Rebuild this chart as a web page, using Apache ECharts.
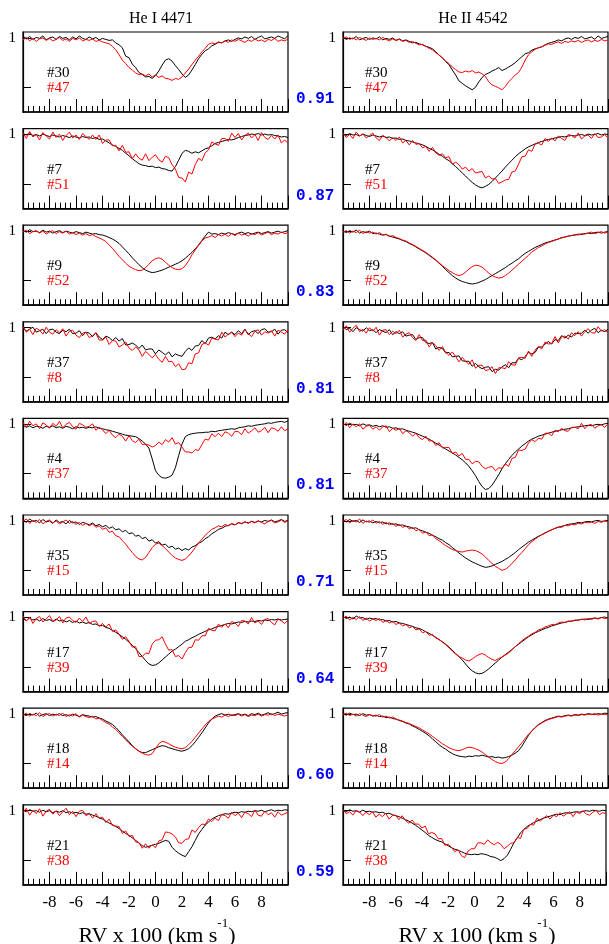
<!DOCTYPE html>
<html><head><meta charset="utf-8">
<script src="https://cdn.jsdelivr.net/npm/echarts@6/dist/echarts.min.js"></script>
<style>html,body{margin:0;padding:0;background:#fff}#c{width:609px;height:944px}</style>
</head><body><div id="c"></div>
<script>
// Radial velocity sampling grid (units of 100 km/s)
const RV = Array.from({length: 81}, (_, i) => -10 + i * 0.25);

const xTicks = [-8, -6, -4, -2, 0, 2, 4, 6, 8];
const phases = ['0.91', '0.87', '0.83', '0.81', '0.81', '0.71', '0.64', '0.60', '0.59'];
const blackIds = ['#30', '#7', '#9', '#37', '#4', '#35', '#17', '#18', '#21'];
const redIds = ['#47', '#51', '#52', '#8', '#37', '#15', '#39', '#14', '#38'];
const lineTitles = ['He I 4471', 'He II 4542'];

// ---- He I 4471 profiles ----
const heI_r1_black = [1.004,0.998,1.003,0.997,1.001,0.999,1.004,0.996,1.000,1.002,0.997,1.003,0.999,1.001,0.996,1.002,0.998,1.004,0.999,0.997,1.002,0.998,1.001,0.996,0.999,0.997,0.995,0.996,0.990,0.986,0.980,0.963,0.960,0.947,0.940,0.930,0.926,0.921,0.922,0.918,0.924,0.933,0.945,0.955,0.958,0.953,0.944,0.936,0.927,0.920,0.925,0.935,0.946,0.958,0.967,0.974,0.978,0.984,0.987,0.991,0.990,0.994,0.996,0.993,0.997,1.000,0.998,1.002,0.999,1.003,0.997,1.001,1.004,0.998,1.000,1.002,0.999,1.004,1.001,0.998,1.005];
const heI_r1_red = [0.996,1.001,0.994,0.999,0.993,0.998,1.000,0.995,0.999,0.994,0.997,1.001,0.995,0.998,0.993,0.999,0.996,1.000,0.994,0.997,0.995,0.998,0.993,0.995,0.992,0.990,0.988,0.983,0.976,0.966,0.955,0.948,0.940,0.935,0.929,0.926,0.927,0.923,0.927,0.921,0.925,0.920,0.923,0.918,0.917,0.914,0.918,0.916,0.921,0.929,0.937,0.946,0.955,0.963,0.972,0.979,0.987,0.990,0.988,0.992,0.990,0.994,0.991,0.996,0.993,0.997,0.994,0.991,0.996,0.993,0.998,0.994,0.996,0.992,0.997,0.995,0.999,0.993,0.996,0.994,0.998];
const heI_r2_black = [1.002,0.999,1.003,0.998,1.000,0.997,1.001,0.998,0.996,0.999,0.997,0.995,0.998,0.996,0.994,0.997,0.995,0.993,0.996,0.994,0.995,0.992,0.994,0.990,0.991,0.987,0.983,0.979,0.976,0.972,0.968,0.962,0.957,0.951,0.946,0.941,0.938,0.937,0.935,0.936,0.933,0.934,0.931,0.930,0.927,0.926,0.935,0.948,0.962,0.968,0.966,0.962,0.965,0.963,0.967,0.971,0.973,0.977,0.982,0.984,0.986,0.988,0.990,0.989,0.991,0.994,0.996,0.998,0.999,1.001,1.000,1.002,0.999,1.001,0.999,1.000,0.998,0.997,0.995,0.996,0.994];
const heI_r2_red = [1.003,0.992,1.006,0.995,1.000,0.989,1.004,0.997,0.991,1.005,0.994,1.001,0.988,0.998,1.005,0.993,0.999,0.990,1.002,0.996,0.990,0.999,0.990,0.999,0.982,0.989,0.989,0.977,0.978,0.967,0.978,0.964,0.965,0.951,0.961,0.952,0.948,0.961,0.947,0.954,0.959,0.949,0.944,0.956,0.953,0.939,0.930,0.913,0.912,0.904,0.924,0.920,0.939,0.952,0.947,0.963,0.969,0.985,0.981,0.978,0.992,0.992,0.986,1.003,0.994,1.002,0.989,0.998,1.003,0.993,1.000,0.988,1.004,0.994,0.990,0.998,0.991,0.999,0.983,0.989,0.982];
const heI_r3_black = [1.001,0.998,1.003,0.999,1.000,0.997,1.002,0.998,1.000,0.996,0.999,1.001,0.997,1.000,0.998,0.996,0.999,0.997,0.995,0.998,0.996,0.994,0.995,0.993,0.992,0.990,0.987,0.984,0.980,0.975,0.968,0.961,0.954,0.946,0.939,0.932,0.926,0.921,0.918,0.916,0.917,0.919,0.921,0.924,0.927,0.930,0.933,0.936,0.940,0.945,0.951,0.957,0.964,0.972,0.981,0.990,0.998,0.994,0.995,0.993,0.996,0.994,0.997,0.995,0.993,0.996,0.998,0.995,0.997,0.994,0.996,0.998,0.995,0.997,0.999,0.996,0.998,1.000,0.997,0.999,1.001];
const heI_r3_red = [0.998,1.002,0.995,0.999,1.001,0.996,1.000,0.994,0.998,1.001,0.995,0.999,0.996,1.000,0.994,0.997,0.993,0.996,0.992,0.995,0.991,0.993,0.989,0.986,0.983,0.979,0.972,0.965,0.957,0.949,0.942,0.935,0.929,0.925,0.922,0.920,0.921,0.926,0.933,0.940,0.944,0.946,0.943,0.937,0.931,0.926,0.923,0.922,0.924,0.930,0.940,0.952,0.962,0.971,0.980,0.986,0.988,0.991,0.987,0.993,0.990,0.994,0.989,0.995,0.991,0.996,0.992,0.994,0.990,0.995,0.993,0.997,0.992,0.995,0.998,0.993,0.996,0.994,0.998,0.995,0.997];
const heI_r4_black = [1.001,0.993,0.997,1.001,0.991,0.994,0.997,0.988,0.996,0.997,0.991,0.988,0.995,0.992,0.997,0.988,0.989,0.994,0.984,0.991,0.989,0.982,0.990,0.981,0.976,0.983,0.980,0.974,0.980,0.973,0.978,0.965,0.966,0.969,0.965,0.958,0.965,0.955,0.957,0.957,0.947,0.955,0.950,0.945,0.951,0.941,0.947,0.944,0.942,0.952,0.959,0.954,0.963,0.964,0.974,0.968,0.979,0.981,0.977,0.984,0.979,0.991,0.986,0.991,0.986,0.994,0.988,0.997,0.986,0.992,0.994,0.988,0.996,0.998,0.991,0.992,0.997,0.987,0.995,0.996,0.990];
const heI_r4_red = [1.002,0.991,0.997,0.986,0.999,0.995,0.987,1.001,0.991,0.987,0.996,0.990,0.998,0.983,0.993,0.995,0.985,0.980,0.989,0.991,0.980,0.984,0.989,0.975,0.975,0.981,0.966,0.974,0.973,0.961,0.965,0.971,0.959,0.954,0.961,0.955,0.942,0.952,0.946,0.939,0.946,0.936,0.930,0.942,0.931,0.932,0.921,0.927,0.915,0.916,0.929,0.927,0.947,0.949,0.966,0.969,0.965,0.979,0.977,0.975,0.991,0.981,0.987,0.991,0.982,0.989,0.985,0.996,0.988,0.982,0.993,0.996,0.985,0.992,0.989,0.994,0.983,0.995,0.991,0.987,0.996];
const heI_r5_black = [0.998,0.994,0.997,0.993,0.996,0.995,0.992,0.996,0.994,0.997,0.993,0.995,0.992,0.996,0.994,0.991,0.995,0.993,0.994,0.992,0.994,0.993,0.995,0.992,0.991,0.989,0.988,0.986,0.984,0.982,0.980,0.978,0.977,0.976,0.975,0.971,0.966,0.960,0.952,0.930,0.906,0.897,0.892,0.891,0.893,0.897,0.912,0.937,0.960,0.975,0.979,0.981,0.982,0.983,0.983,0.984,0.984,0.986,0.985,0.987,0.988,0.989,0.990,0.991,0.990,0.993,0.994,0.995,0.997,0.996,0.998,0.999,1.000,1.001,1.003,1.002,1.004,1.005,1.006,1.004,1.007];
const heI_r5_red = [1.004,0.994,1.006,0.997,1.001,0.991,1.003,0.999,0.992,1.002,0.996,1.006,0.993,1.000,1.004,0.995,0.990,1.002,0.999,0.994,0.996,1.001,0.988,0.994,0.989,0.981,0.988,0.978,0.973,0.980,0.976,0.966,0.977,0.967,0.963,0.970,0.959,0.960,0.958,0.954,0.957,0.964,0.959,0.969,0.964,0.973,0.960,0.963,0.954,0.944,0.944,0.942,0.949,0.947,0.959,0.970,0.968,0.981,0.975,0.982,0.975,0.985,0.982,0.976,0.986,0.985,0.979,0.991,0.982,0.987,0.993,0.984,0.987,0.994,0.983,0.993,0.991,0.986,0.995,0.987,0.991];
const heI_r6_black = [1.002,0.997,1.004,0.999,1.001,0.996,1.003,0.998,1.000,0.995,1.002,0.997,0.999,0.994,1.001,0.996,0.998,0.993,0.997,0.995,0.992,0.996,0.990,0.993,0.988,0.991,0.985,0.988,0.982,0.984,0.978,0.981,0.974,0.976,0.969,0.971,0.964,0.967,0.959,0.962,0.955,0.958,0.951,0.953,0.946,0.949,0.943,0.945,0.940,0.944,0.941,0.947,0.950,0.955,0.958,0.964,0.968,0.974,0.978,0.983,0.985,0.989,0.991,0.994,0.992,0.996,0.995,0.998,0.996,0.999,0.997,1.000,0.998,1.001,0.999,1.002,0.998,1.000,1.003,0.999,1.001];
const heI_r6_red = [0.999,1.004,0.995,1.001,0.997,1.003,0.994,0.999,1.002,0.996,1.000,0.994,0.998,1.002,0.995,0.999,0.993,0.997,0.991,0.995,0.990,0.994,0.987,0.990,0.983,0.986,0.977,0.979,0.970,0.968,0.960,0.953,0.944,0.936,0.928,0.923,0.921,0.926,0.936,0.946,0.953,0.955,0.950,0.944,0.937,0.930,0.925,0.922,0.920,0.923,0.929,0.937,0.946,0.955,0.963,0.971,0.977,0.983,0.986,0.990,0.988,0.993,0.990,0.995,0.992,0.997,0.994,0.998,0.995,0.999,0.996,1.000,0.997,0.994,0.999,1.001,0.996,0.998,1.002,0.997,1.000];
const heI_r7_black = [0.998,0.994,0.999,0.995,0.997,0.993,0.998,0.994,0.996,0.992,0.997,0.993,0.995,0.991,0.994,0.990,0.993,0.989,0.991,0.988,0.990,0.986,0.987,0.983,0.984,0.980,0.978,0.974,0.970,0.966,0.961,0.956,0.950,0.944,0.937,0.929,0.921,0.913,0.906,0.903,0.904,0.908,0.914,0.920,0.926,0.932,0.936,0.941,0.946,0.952,0.955,0.959,0.962,0.966,0.969,0.972,0.975,0.977,0.980,0.982,0.984,0.986,0.988,0.987,0.989,0.991,0.990,0.992,0.991,0.993,0.992,0.994,0.993,0.995,0.994,0.996,0.995,0.997,0.995,0.996,0.997];
const heI_r7_red = [1.003,0.993,1.001,0.988,0.998,1.002,0.991,0.997,1.004,0.992,0.995,1.002,0.989,0.999,1.001,0.994,0.990,0.999,0.992,1.001,0.988,0.992,0.993,0.982,0.988,0.981,0.987,0.972,0.975,0.966,0.956,0.961,0.952,0.940,0.941,0.921,0.921,0.928,0.927,0.946,0.954,0.955,0.961,0.946,0.934,0.935,0.921,0.923,0.916,0.929,0.939,0.940,0.955,0.954,0.963,0.963,0.978,0.974,0.973,0.987,0.980,0.987,0.979,0.992,0.989,0.982,0.994,0.993,0.987,1.000,0.989,0.993,0.986,0.996,0.998,0.990,0.985,0.997,0.993,0.988,0.995];
const heI_r8_black = [1.000,0.997,1.001,0.998,1.002,0.996,0.999,1.001,0.997,1.000,0.998,1.001,0.997,0.999,0.996,1.000,0.998,0.995,0.999,0.997,0.996,0.994,0.995,0.992,0.990,0.986,0.983,0.979,0.973,0.966,0.958,0.951,0.944,0.936,0.930,0.925,0.922,0.922,0.925,0.928,0.931,0.934,0.936,0.935,0.932,0.930,0.928,0.926,0.925,0.927,0.930,0.936,0.944,0.953,0.962,0.972,0.982,0.990,0.996,0.999,1.001,0.998,1.000,0.997,0.999,1.001,0.998,1.000,0.997,1.001,0.999,1.002,0.998,1.000,1.003,0.999,1.001,1.004,1.000,1.002,1.003];
const heI_r8_red = [0.998,1.002,0.996,1.000,0.997,1.003,0.995,0.999,1.001,0.996,1.000,0.997,1.002,0.995,0.999,0.996,1.001,0.994,0.998,0.995,0.993,0.996,0.990,0.992,0.987,0.983,0.980,0.974,0.969,0.962,0.955,0.948,0.941,0.935,0.930,0.925,0.921,0.918,0.917,0.920,0.930,0.940,0.945,0.943,0.940,0.936,0.933,0.931,0.930,0.932,0.938,0.945,0.953,0.962,0.970,0.978,0.985,0.990,0.993,0.996,0.994,0.998,0.995,0.999,0.997,1.000,0.996,0.999,0.995,0.998,0.997,1.000,0.996,0.999,0.998,1.001,0.997,1.000,0.998,0.996,0.999];
const heI_r9_black = [1.001,0.998,1.002,0.999,1.000,0.997,1.001,0.998,1.000,0.996,0.999,0.997,1.000,0.996,0.998,0.995,0.997,0.994,0.996,0.993,0.994,0.991,0.989,0.986,0.983,0.979,0.975,0.972,0.968,0.964,0.959,0.954,0.950,0.945,0.940,0.935,0.929,0.926,0.928,0.930,0.932,0.934,0.937,0.940,0.938,0.926,0.919,0.914,0.910,0.907,0.917,0.927,0.940,0.953,0.962,0.971,0.977,0.983,0.987,0.990,0.992,0.994,0.993,0.995,0.997,0.996,0.998,0.997,0.999,0.998,1.000,0.999,1.001,0.998,1.000,1.002,0.999,1.001,1.000,1.002,1.001];
const heI_r9_red = [0.996,1.005,0.991,1.001,0.994,1.004,0.989,0.999,1.003,0.993,1.000,0.990,0.998,1.005,0.992,0.999,0.988,0.999,1.001,0.990,0.994,0.985,0.994,0.984,0.987,0.976,0.983,0.970,0.969,0.968,0.954,0.959,0.948,0.950,0.937,0.935,0.924,0.933,0.924,0.931,0.925,0.939,0.941,0.957,0.956,0.953,0.947,0.935,0.934,0.942,0.943,0.961,0.956,0.966,0.973,0.972,0.983,0.978,0.985,0.980,0.992,0.990,0.985,0.997,0.990,0.995,0.986,0.997,0.994,0.988,1.001,0.991,0.989,0.999,0.992,0.996,0.987,0.998,0.991,0.994,0.997];

// ---- He II 4542 profiles ----
const heII_r1_black = [1.002,0.997,1.000,0.998,1.003,0.996,0.999,1.001,0.997,1.000,0.998,1.002,0.996,0.999,0.997,1.000,0.995,0.998,0.994,0.996,0.993,0.990,0.991,0.988,0.986,0.983,0.981,0.978,0.972,0.965,0.960,0.952,0.946,0.935,0.925,0.913,0.908,0.903,0.899,0.895,0.900,0.911,0.920,0.926,0.929,0.933,0.936,0.940,0.934,0.937,0.941,0.945,0.950,0.956,0.962,0.968,0.970,0.975,0.978,0.980,0.982,0.986,0.989,0.991,0.993,0.996,0.994,0.998,1.000,0.997,1.001,0.999,1.003,0.998,1.000,1.002,0.997,1.004,0.999,1.001,1.003];
const heII_r1_red = [0.999,1.002,0.997,1.000,0.996,1.001,0.998,0.995,1.000,0.997,0.999,0.996,1.001,0.997,0.994,0.998,0.995,0.997,0.993,0.995,0.991,0.993,0.989,0.986,0.987,0.983,0.979,0.976,0.970,0.966,0.959,0.953,0.948,0.941,0.936,0.931,0.930,0.933,0.931,0.934,0.929,0.931,0.927,0.922,0.911,0.905,0.902,0.899,0.895,0.902,0.911,0.918,0.925,0.930,0.941,0.955,0.966,0.972,0.977,0.980,0.982,0.985,0.988,0.987,0.990,0.992,0.989,0.993,0.991,0.994,0.992,0.995,0.991,0.994,0.996,0.992,0.995,0.993,0.997,0.994,0.996];
const heII_r2_black = [1.001,0.998,1.002,0.999,1.000,0.997,1.001,0.998,0.996,0.999,0.997,0.995,0.997,0.994,0.995,0.992,0.993,0.990,0.991,0.988,0.987,0.985,0.983,0.981,0.979,0.976,0.972,0.969,0.965,0.960,0.956,0.951,0.947,0.941,0.935,0.929,0.922,0.916,0.909,0.903,0.898,0.894,0.892,0.895,0.899,0.905,0.912,0.919,0.926,0.934,0.941,0.948,0.955,0.961,0.966,0.971,0.975,0.978,0.981,0.984,0.986,0.988,0.990,0.991,0.993,0.994,0.996,0.995,0.997,0.998,0.997,0.999,1.000,0.998,1.001,0.999,1.000,1.002,0.999,1.001,1.000];
const heII_r2_red = [1.003,0.994,1.000,0.992,1.005,0.997,1.001,0.993,0.998,1.003,0.993,0.988,0.998,0.994,0.987,0.994,0.988,0.995,0.983,0.988,0.979,0.988,0.980,0.982,0.973,0.976,0.966,0.974,0.963,0.958,0.961,0.953,0.955,0.940,0.944,0.939,0.930,0.934,0.926,0.931,0.922,0.924,0.925,0.912,0.916,0.910,0.911,0.901,0.904,0.908,0.909,0.924,0.926,0.940,0.955,0.956,0.969,0.966,0.981,0.982,0.979,0.992,0.986,0.993,0.987,0.997,0.992,0.988,1.000,0.998,0.993,1.003,0.991,0.997,0.999,0.992,1.002,0.994,0.995,1.000,0.993];
const heII_r3_black = [1.000,0.997,1.001,0.998,1.002,0.996,0.999,0.997,1.000,0.995,0.996,0.994,0.992,0.993,0.990,0.988,0.986,0.984,0.981,0.979,0.975,0.972,0.968,0.964,0.960,0.956,0.951,0.946,0.941,0.935,0.929,0.922,0.916,0.910,0.905,0.901,0.898,0.896,0.894,0.893,0.894,0.896,0.899,0.902,0.906,0.910,0.914,0.918,0.922,0.926,0.931,0.935,0.940,0.944,0.950,0.955,0.959,0.963,0.967,0.970,0.973,0.976,0.978,0.980,0.982,0.984,0.987,0.988,0.990,0.991,0.992,0.994,0.993,0.995,0.996,0.995,0.997,0.998,0.996,0.998,0.999];
const heII_r3_red = [0.998,1.001,0.996,1.000,0.997,1.002,0.995,0.999,0.996,0.998,0.994,0.997,0.992,0.994,0.989,0.991,0.987,0.985,0.982,0.980,0.976,0.973,0.969,0.965,0.961,0.957,0.952,0.947,0.942,0.936,0.930,0.925,0.920,0.916,0.912,0.910,0.912,0.917,0.923,0.928,0.931,0.930,0.927,0.921,0.915,0.910,0.907,0.905,0.906,0.910,0.915,0.921,0.927,0.933,0.939,0.945,0.951,0.958,0.962,0.967,0.970,0.974,0.977,0.979,0.982,0.984,0.986,0.988,0.990,0.991,0.993,0.992,0.995,0.994,0.996,0.998,0.995,0.997,0.999,0.996,0.998];
const heII_r4_black = [1.002,0.996,0.999,0.992,1.000,0.996,0.993,1.000,0.994,0.996,0.990,0.996,0.993,0.990,0.996,0.986,0.992,0.988,0.992,0.983,0.985,0.986,0.976,0.980,0.980,0.970,0.968,0.970,0.957,0.960,0.958,0.949,0.950,0.941,0.942,0.943,0.933,0.932,0.932,0.922,0.928,0.921,0.917,0.920,0.921,0.911,0.916,0.914,0.921,0.925,0.919,0.929,0.929,0.938,0.935,0.942,0.950,0.947,0.950,0.961,0.961,0.967,0.972,0.967,0.976,0.974,0.984,0.979,0.985,0.981,0.989,0.988,0.989,0.995,0.989,0.995,0.999,0.990,0.995,0.992,0.997];
const heII_r4_red = [0.995,1.004,0.991,0.999,1.005,0.992,0.997,0.989,1.000,0.993,1.001,0.985,0.995,0.996,0.986,0.993,0.988,0.995,0.981,0.987,0.990,0.980,0.974,0.986,0.974,0.975,0.961,0.970,0.964,0.954,0.962,0.950,0.944,0.951,0.942,0.931,0.940,0.932,0.926,0.935,0.918,0.924,0.924,0.913,0.915,0.921,0.907,0.919,0.919,0.917,0.931,0.925,0.924,0.939,0.940,0.938,0.953,0.942,0.955,0.962,0.957,0.971,0.967,0.968,0.982,0.969,0.982,0.983,0.977,0.990,0.984,0.992,0.983,0.992,0.998,0.990,0.989,1.002,0.993,0.996,0.990];
const heII_r5_black = [1.001,0.998,1.002,0.999,1.000,0.997,1.001,0.998,0.999,0.996,0.998,0.995,0.997,0.994,0.995,0.992,0.993,0.990,0.991,0.988,0.986,0.984,0.982,0.979,0.976,0.973,0.970,0.966,0.962,0.958,0.954,0.950,0.946,0.942,0.938,0.933,0.928,0.922,0.915,0.906,0.896,0.884,0.874,0.868,0.870,0.877,0.887,0.898,0.910,0.920,0.929,0.937,0.944,0.950,0.956,0.961,0.966,0.970,0.973,0.976,0.978,0.980,0.982,0.984,0.986,0.987,0.989,0.990,0.991,0.993,0.994,0.995,0.996,0.997,0.998,0.997,0.999,1.000,0.999,1.001,1.002];
const heII_r5_red = [0.997,1.004,0.993,1.001,0.995,1.001,0.990,0.996,0.998,0.990,0.995,0.988,0.995,0.997,0.985,0.992,0.988,0.992,0.981,0.987,0.983,0.976,0.982,0.973,0.969,0.976,0.966,0.967,0.957,0.963,0.952,0.953,0.953,0.941,0.944,0.936,0.941,0.929,0.929,0.920,0.925,0.924,0.915,0.910,0.913,0.915,0.906,0.912,0.911,0.920,0.915,0.931,0.933,0.948,0.947,0.950,0.962,0.969,0.965,0.972,0.970,0.982,0.982,0.977,0.988,0.985,0.992,0.987,0.986,0.994,0.994,0.991,1.002,0.991,0.998,1.000,0.992,0.997,0.999,0.994,1.001];
const heII_r6_black = [1.002,0.998,1.003,0.999,1.001,0.997,1.002,0.998,1.000,0.996,0.999,0.996,0.998,0.994,0.996,0.993,0.994,0.991,0.992,0.989,0.988,0.985,0.986,0.982,0.980,0.977,0.975,0.971,0.968,0.964,0.961,0.956,0.952,0.946,0.941,0.935,0.930,0.925,0.921,0.917,0.914,0.911,0.908,0.906,0.907,0.909,0.912,0.915,0.918,0.922,0.926,0.931,0.936,0.942,0.947,0.952,0.957,0.961,0.965,0.969,0.972,0.976,0.979,0.982,0.985,0.987,0.989,0.991,0.993,0.994,0.995,0.997,0.996,0.998,0.999,0.998,1.000,1.001,0.999,1.000,1.001];
const heII_r6_red = [0.999,1.003,0.996,1.001,0.998,1.004,0.995,1.000,0.997,1.002,0.995,0.999,0.993,0.997,0.992,0.995,0.989,0.993,0.987,0.990,0.984,0.987,0.980,0.983,0.975,0.978,0.970,0.972,0.964,0.960,0.955,0.950,0.946,0.942,0.940,0.938,0.937,0.939,0.940,0.941,0.940,0.937,0.933,0.927,0.920,0.914,0.908,0.904,0.900,0.902,0.907,0.914,0.921,0.929,0.936,0.944,0.952,0.958,0.963,0.968,0.972,0.975,0.979,0.982,0.985,0.988,0.987,0.991,0.990,0.993,0.992,0.995,0.994,0.997,0.996,0.998,0.995,0.999,0.997,1.000,0.998];
const heII_r7_black = [1.002,0.998,1.001,0.997,1.003,0.999,1.000,0.996,0.999,0.997,0.998,0.995,0.996,0.993,0.994,0.991,0.992,0.989,0.988,0.986,0.984,0.982,0.979,0.978,0.975,0.971,0.968,0.964,0.960,0.955,0.951,0.946,0.940,0.934,0.927,0.921,0.914,0.906,0.898,0.892,0.888,0.886,0.887,0.891,0.896,0.902,0.908,0.914,0.920,0.925,0.930,0.935,0.941,0.946,0.951,0.956,0.961,0.965,0.969,0.972,0.975,0.978,0.980,0.983,0.985,0.987,0.989,0.990,0.992,0.993,0.994,0.995,0.996,0.997,0.996,0.998,0.999,0.998,1.000,1.001,0.999];
const heII_r7_red = [0.998,1.003,0.995,1.000,0.996,1.002,0.994,0.999,0.993,0.997,0.994,0.998,0.990,0.994,0.989,0.992,0.986,0.989,0.983,0.986,0.979,0.982,0.975,0.977,0.969,0.972,0.964,0.966,0.958,0.956,0.950,0.945,0.939,0.932,0.926,0.921,0.918,0.914,0.912,0.916,0.921,0.925,0.927,0.924,0.919,0.915,0.913,0.917,0.920,0.924,0.928,0.935,0.941,0.947,0.953,0.958,0.962,0.967,0.970,0.975,0.977,0.981,0.983,0.986,0.985,0.989,0.991,0.990,0.993,0.992,0.995,0.994,0.997,0.995,0.998,0.996,0.999,0.997,1.000,0.998,0.999];
const heII_r8_black = [1.001,0.998,1.002,0.999,1.000,0.997,1.001,0.998,0.999,0.996,0.998,0.995,0.996,0.993,0.994,0.991,0.990,0.987,0.985,0.982,0.980,0.976,0.973,0.969,0.965,0.961,0.956,0.950,0.944,0.938,0.933,0.929,0.924,0.920,0.917,0.915,0.914,0.913,0.915,0.914,0.916,0.915,0.917,0.915,0.913,0.914,0.912,0.913,0.911,0.912,0.914,0.917,0.921,0.926,0.935,0.946,0.957,0.966,0.973,0.979,0.983,0.987,0.990,0.992,0.994,0.996,0.995,0.997,0.998,0.997,0.999,0.998,1.000,0.999,1.001,1.000,0.999,1.001,1.000,1.002,1.001];
const heII_r8_red = [0.999,1.002,0.997,1.000,0.996,1.001,0.998,0.995,0.999,0.997,0.996,0.999,0.994,0.996,0.992,0.994,0.990,0.988,0.986,0.983,0.981,0.978,0.975,0.972,0.968,0.964,0.960,0.955,0.950,0.945,0.940,0.936,0.932,0.929,0.927,0.926,0.928,0.931,0.933,0.932,0.930,0.927,0.923,0.918,0.913,0.908,0.904,0.901,0.900,0.903,0.910,0.918,0.926,0.934,0.942,0.951,0.959,0.966,0.972,0.978,0.982,0.986,0.989,0.991,0.993,0.995,0.994,0.996,0.997,0.996,0.998,0.997,0.999,0.998,1.000,0.999,1.001,0.998,1.000,0.999,1.000];
const heII_r9_black = [1.001,0.998,1.002,0.999,1.000,0.997,1.001,0.998,0.999,0.997,0.998,0.996,0.997,0.994,0.995,0.992,0.990,0.988,0.985,0.982,0.979,0.975,0.971,0.966,0.961,0.956,0.950,0.946,0.942,0.939,0.937,0.933,0.929,0.925,0.922,0.920,0.917,0.914,0.912,0.911,0.912,0.911,0.913,0.912,0.910,0.907,0.906,0.903,0.899,0.903,0.910,0.922,0.935,0.945,0.955,0.962,0.968,0.972,0.976,0.979,0.982,0.985,0.987,0.989,0.991,0.993,0.992,0.995,0.996,0.995,0.997,0.998,0.997,0.999,1.000,0.999,1.001,1.000,0.999,1.001,1.000];
const heII_r9_red = [1.002,0.994,0.998,0.991,1.000,0.998,0.990,0.997,0.992,0.998,0.987,0.993,0.988,0.995,0.983,0.990,0.991,0.982,0.990,0.980,0.975,0.981,0.973,0.973,0.965,0.969,0.953,0.956,0.953,0.943,0.944,0.930,0.932,0.926,0.917,0.921,0.909,0.905,0.918,0.923,0.923,0.935,0.935,0.932,0.941,0.935,0.931,0.936,0.932,0.923,0.928,0.934,0.935,0.946,0.944,0.963,0.964,0.972,0.971,0.985,0.979,0.985,0.990,0.983,0.991,0.988,0.996,0.989,0.994,0.998,0.988,0.998,0.994,1.000,0.993,0.991,0.997,1.001,0.992,0.996,0.994];

const heI_black = [heI_r1_black, heI_r2_black, heI_r3_black, heI_r4_black, heI_r5_black, heI_r6_black, heI_r7_black, heI_r8_black, heI_r9_black];
const heI_red = [heI_r1_red, heI_r2_red, heI_r3_red, heI_r4_red, heI_r5_red, heI_r6_red, heI_r7_red, heI_r8_red, heI_r9_red];
const heII_black = [heII_r1_black, heII_r2_black, heII_r3_black, heII_r4_black, heII_r5_black, heII_r6_black, heII_r7_black, heII_r8_black, heII_r9_black];
const heII_red = [heII_r1_red, heII_r2_red, heII_r3_red, heII_r4_red, heII_r5_red, heII_r6_red, heII_r7_red, heII_r8_red, heII_r9_red];

const chart = echarts.init(document.getElementById('c'), null, {renderer: 'canvas'});
const SERIF = '"Liberation Serif","Times New Roman",serif';
const MONO = '"Liberation Mono","DejaVu Sans Mono",monospace';
const grids = [], xAxes = [], yAxes = [], series = [], graphics = [];
const colLeft = [23, 343];
const rowStep = 96.6, firstTop = 32, panelH = 80, panelW = 265;

for (let r = 0; r < 9; r++) {
  for (let c = 0; c < 2; c++) {
    const idx = r * 2 + c;
    const left = colLeft[c];
    const top = firstTop + r * rowStep;
    grids.push({left: left, top: top, width: panelW, height: panelH, show: true,
      borderColor: '#000', borderWidth: 1.2, backgroundColor: 'transparent'});
    xAxes.push({
      gridIndex: idx, type: 'value', min: -10, max: 10, interval: 2,
      axisLine: {show: true, onZero: false, lineStyle: {color: '#000', width: 1.6}},
      axisTick: {show: true, inside: true, length: 13, lineStyle: {color: '#000', width: 1}},
      minorTick: {show: true, splitNumber: 5, length: 6, lineStyle: {color: '#000', width: 1}},
      splitLine: {show: false}, minorSplitLine: {show: false},
      axisLabel: {show: r === 8, margin: 9, color: '#000', fontFamily: SERIF, fontSize: 17,
        formatter: v => xTicks.includes(v) ? String(v) : ''}
    });
    yAxes.push({
      gridIndex: idx, type: 'value', min: 0.85, max: 1.012,
      axisLine: {show: true, onZero: false, lineStyle: {color: '#000', width: 1.2}},
      axisTick: {show: true, inside: true, length: 8, customValues: [0.9, 1], lineStyle: {color: '#000', width: 1}},
      axisLabel: {show: true, customValues: [1], formatter: () => '1', margin: 7, color: '#000', fontFamily: SERIF, fontSize: 15},
      splitLine: {show: false}
    });
    const blk = c === 0 ? heI_black[r] : heII_black[r];
    const red = c === 0 ? heI_red[r] : heII_red[r];
    series.push({type: 'line', xAxisIndex: idx, yAxisIndex: idx, symbol: 'none', silent: true,
      lineStyle: {color: '#000', width: 1}, data: RV.map((x, i) => [x, blk[i]])});
    series.push({type: 'line', xAxisIndex: idx, yAxisIndex: idx, symbol: 'none', silent: true,
      lineStyle: {color: '#ff0000', width: 1}, data: RV.map((x, i) => [x, red[i]])});
    const lx = c === 0 ? left + 24 : left + 22;
    graphics.push({type: 'text', x: lx, y: top + 41, style: {text: blackIds[r], fill: '#000', font: '15px ' + SERIF, align: 'left', verticalAlign: 'middle'}});
    graphics.push({type: 'text', x: lx, y: top + 56, style: {text: redIds[r], fill: '#ff0000', font: '15px ' + SERIF, align: 'left', verticalAlign: 'middle'}});
  }
  graphics.push({type: 'text', x: 296, y: firstTop + r * rowStep + 67,
    style: {text: phases[r], fill: '#0000ff', font: 'bold 16px ' + MONO, align: 'left', verticalAlign: 'middle'}});
}
const centers = [157, 477];
for (let c = 0; c < 2; c++) {
  graphics.push({type: 'text', x: c === 0 ? 161 : 473, y: 19,
    style: {text: lineTitles[c], fill: '#000', font: '16px ' + SERIF, align: 'center', verticalAlign: 'middle'}});
  graphics.push({type: 'text', x: centers[c], y: 932,
    style: {text: '{m|RV x 100 (km s}{s|-1}{m|)}', align: 'center', verticalAlign: 'middle',
      rich: {m: {fontSize: 22, fontFamily: SERIF, fill: '#000', lineHeight: 30, verticalAlign: 'bottom'},
             s: {fontSize: 13, fontFamily: SERIF, fill: '#000', lineHeight: 13, verticalAlign: 'top'}}}});
}

chart.setOption({
  animation: false,
  backgroundColor: '#fff',
  grid: grids, xAxis: xAxes, yAxis: yAxes, series: series,
  graphic: graphics
});
</script>
</body></html>
